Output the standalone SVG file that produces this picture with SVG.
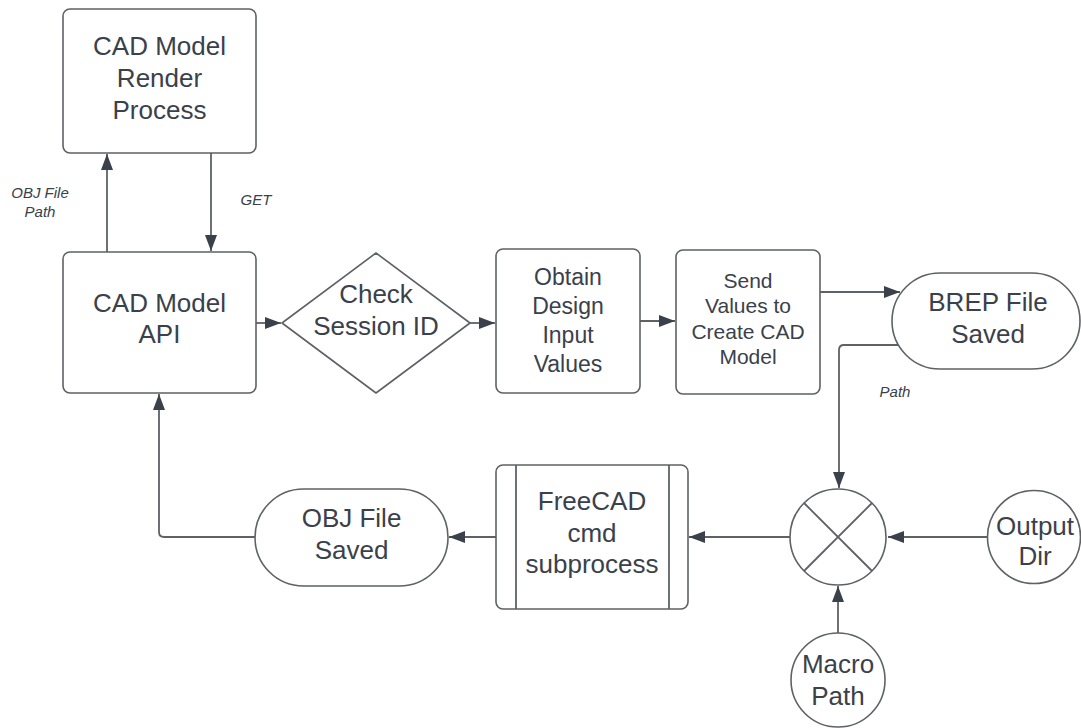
<svg xmlns="http://www.w3.org/2000/svg" width="1081" height="728" viewBox="0 0 1081 728">
  <defs>
    <style>
      .shape { fill: #ffffff; stroke: #5e6166; stroke-width: 1.6; }
      .conn { fill: none; stroke: #5e6166; stroke-width: 1.8; }
      .t { font-family: "Liberation Sans", Arial, sans-serif; fill: #3a414a; text-anchor: middle; }
      .big { font-size: 26px; }
      .mid { font-size: 23px; }
      .sm { font-size: 21px; }
      .lbl { font-family: "Liberation Sans", Arial, sans-serif; fill: #3a414a; font-size: 15px; font-style: italic; text-anchor: middle; }
    </style>
    <marker id="arr" markerUnits="userSpaceOnUse" markerWidth="18" markerHeight="14" refX="16" refY="7" orient="auto">
      <path d="M0,1 L16,7 L0,13 z" fill="#3a414a"/>
    </marker>
  </defs>
  <rect width="1081" height="728" fill="#ffffff"/>

  <g id="connectors">
    <path class="conn" d="M107,252 L107,154" marker-end="url(#arr)"/>
    <path class="conn" d="M211,153 L211,251" marker-end="url(#arr)"/>
    <path class="conn" d="M256,323 L281,323" marker-end="url(#arr)"/>
    <path class="conn" d="M470,323 L495,323" marker-end="url(#arr)"/>
    <path class="conn" d="M640,321 L675,321" marker-end="url(#arr)"/>
    <path class="conn" d="M820,292 L900,292" marker-end="url(#arr)"/>
    <path class="conn" d="M898,345 L844,345 Q839,345 839,350 L839,488" marker-end="url(#arr)"/>
    <path class="conn" d="M988,537 L888,537" marker-end="url(#arr)"/>
    <path class="conn" d="M838,633 L838,586" marker-end="url(#arr)"/>
    <path class="conn" d="M790,537 L689,537" marker-end="url(#arr)"/>
    <path class="conn" d="M496,537 L449,537" marker-end="url(#arr)"/>
    <path class="conn" d="M255,537 L164,537 Q159,537 159,532 L159,394" marker-end="url(#arr)"/>
    <text class="lbl" x="40" y="198">OBJ File</text>
    <text class="lbl" x="40" y="217">Path</text>
    <text class="lbl" x="256" y="205">GET</text>
    <text class="lbl" x="895" y="397">Path</text>
  </g>

  <g id="render-process">
    <rect class="shape" x="63" y="9" width="193" height="144" rx="7"/>
    <text class="t big" x="159.5" y="55">CAD Model</text>
    <text class="t big" x="159.5" y="87">Render</text>
    <text class="t big" x="159.5" y="119">Process</text>
  </g>

  <g id="cad-api">
    <rect class="shape" x="63" y="252" width="193" height="141" rx="7"/>
    <text class="t big" x="159.5" y="312">CAD Model</text>
    <text class="t big" x="159.5" y="343">API</text>
  </g>

  <g id="check-session">
    <path class="shape" d="M376,253 L470,323 L376,393 L282,323 Z" stroke-linejoin="round"/>
    <text class="t big" x="376" y="303">Check</text>
    <text class="t big" x="376" y="335">Session ID</text>
  </g>

  <g id="obtain-values">
    <rect class="shape" x="496" y="249" width="144" height="144" rx="7"/>
    <text class="t mid" x="568" y="285">Obtain</text>
    <text class="t mid" x="568" y="314">Design</text>
    <text class="t mid" x="568" y="343">Input</text>
    <text class="t mid" x="568" y="372">Values</text>
  </g>

  <g id="send-values">
    <rect class="shape" x="676" y="250" width="144" height="144" rx="7"/>
    <text class="t sm" x="748" y="288">Send</text>
    <text class="t sm" x="748" y="313">Values to</text>
    <text class="t sm" x="748" y="339">Create CAD</text>
    <text class="t sm" x="748" y="364">Model</text>
  </g>

  <g id="brep-saved">
    <rect class="shape" x="892" y="273" width="188" height="96" rx="48"/>
    <text class="t big" x="988" y="311">BREP File</text>
    <text class="t big" x="988" y="343">Saved</text>
  </g>

  <g id="mixer">
    <circle class="shape" cx="838" cy="537" r="48"/>
    <line class="conn" x1="804" y1="503" x2="872" y2="571" stroke-width="1.6"/>
    <line class="conn" x1="872" y1="503" x2="804" y2="571" stroke-width="1.6"/>
  </g>

  <g id="output-dir">
    <circle class="shape" cx="1034" cy="537" r="46.5"/>
    <text class="t big" x="1035" y="535">Output</text>
    <text class="t big" x="1035" y="565">Dir</text>
  </g>

  <g id="macro-path">
    <circle class="shape" cx="838" cy="680" r="47"/>
    <text class="t big" x="838" y="673">Macro</text>
    <text class="t big" x="838" y="705">Path</text>
  </g>

  <g id="freecad-subprocess">
    <rect class="shape" x="496" y="465" width="192" height="144" rx="7"/>
    <line class="conn" x1="516" y1="465" x2="516" y2="609" stroke-width="1.6"/>
    <line class="conn" x1="669" y1="465" x2="669" y2="609" stroke-width="1.6"/>
    <text class="t big" x="592" y="510">FreeCAD</text>
    <text class="t big" x="592" y="542">cmd</text>
    <text class="t big" x="592" y="573">subprocess</text>
  </g>

  <g id="obj-saved">
    <rect class="shape" x="255" y="489" width="193" height="97" rx="48.5"/>
    <text class="t big" x="351.5" y="527">OBJ File</text>
    <text class="t big" x="351.5" y="559">Saved</text>
  </g>
</svg>
